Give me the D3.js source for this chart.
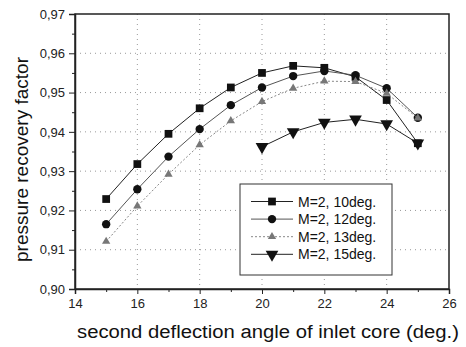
<!DOCTYPE html>
<html>
<head>
<meta charset="utf-8">
<script src="https://cdn.jsdelivr.net/npm/d3@7/dist/d3.min.js"></script>
<style>
    body { margin: 0; background: #fff; }
    svg { display: block; font-family: "Liberation Sans", Arial, sans-serif; }
    .grid line { stroke: #999; stroke-dasharray: 1,4; stroke-width: 1; }
    .axis path, .axis line { stroke: #222; }
    .axis text { font-size: 13px; fill: #222; }
    .title { font-size: 18px; fill: #111; }
    .legend text { font-size: 14px; fill: #111; }
</style>
</head>
<body>
<svg id="chart" width="466" height="347"></svg>
<script>
    // x values (deg.)
    const angles = [15, 16, 17, 18, 19, 20, 21, 22, 23, 24, 25];
    const angles15 = [20, 21, 22, 23, 24, 25];

    const m2deg10 = [0.9229, 0.9318, 0.9395, 0.9460, 0.9513, 0.9550, 0.9568, 0.9563, 0.9540, 0.9481, 0.9371];
    const m2deg12 = [0.9165, 0.9254, 0.9337, 0.9407, 0.9468, 0.9513, 0.9542, 0.9555, 0.9544, 0.9511, 0.9436];
    const m2deg13 = [0.9121, 0.9211, 0.9292, 0.9367, 0.9428, 0.9477, 0.9511, 0.9529, 0.9528, 0.9498, 0.9435];
    const m2deg15 = [0.9362, 0.9400, 0.9424, 0.9432, 0.9420, 0.9371];

    const xTicks = [14, 16, 18, 20, 22, 24, 26];
    const yTicks = [0.90, 0.91, 0.92, 0.93, 0.94, 0.95, 0.96, 0.97];

    const series = [
        {label: 'M=2, 10deg.', xs: angles, ys: m2deg10, symbol: d3.symbolSquare, size: 60, color: '#111', dash: null, lineColor: '#222'},
        {label: 'M=2, 12deg.', xs: angles, ys: m2deg12, symbol: d3.symbolCircle, size: 55, color: '#111', dash: null, lineColor: '#555'},
        {label: 'M=2, 13deg.', xs: angles, ys: m2deg13, symbol: d3.symbolTriangle, size: 30, color: '#777', dash: '2,2', lineColor: '#888'},
        {label: 'M=2, 15deg.', xs: angles15, ys: m2deg15, symbol: d3.symbolTriangle, size: 70, color: '#111', dash: null, lineColor: '#222', flip: true}
    ];

    const margin = {top: 14, right: 17, bottom: 58, left: 75};
    const width = 466 - margin.left - margin.right;
    const height = 347 - margin.top - margin.bottom;

    const svg = d3.select('#chart');
    const chart = svg.append('g').attr('transform', 'translate(' + margin.left + ',' + margin.top + ')');

    const x = d3.scaleLinear().domain([14, 26]).range([0, width]);
    const y = d3.scaleLinear().domain([0.90, 0.97]).range([height, 0]);

    // grid
    chart.append('g').attr('class', 'grid')
        .selectAll('line').data(xTicks.slice(1, -1)).enter().append('line')
        .attr('x1', d => x(d)).attr('x2', d => x(d)).attr('y1', 0).attr('y2', height);
    chart.append('g').attr('class', 'grid')
        .selectAll('line').data(yTicks.slice(1, -1)).enter().append('line')
        .attr('y1', d => y(d)).attr('y2', d => y(d)).attr('x1', 0).attr('x2', width);

    // frame
    chart.append('rect').attr('width', width).attr('height', height)
        .attr('fill', 'none').attr('stroke', '#222').attr('stroke-width', 1.5);

    // axes with minor ticks
    const fmt = d => d3.format('.2f')(d).replace('.', ',');
    chart.append('g').attr('class', 'x axis').attr('transform', 'translate(0,' + height + ')')
        .call(d3.axisBottom(x).tickValues(d3.range(15, 26, 2)).tickSize(3).tickFormat(''))
        .call(g => g.select('.domain').remove());
    chart.append('g').attr('class', 'x axis').attr('transform', 'translate(0,' + height + ')')
        .call(d3.axisBottom(x).tickValues(xTicks).tickSize(5).tickPadding(5))
        .call(g => g.select('.domain').attr('stroke-width', 1.5));
    chart.append('g').attr('class', 'y axis')
        .call(d3.axisLeft(y).tickValues(d3.range(0.905, 0.97, 0.01)).tickSize(3).tickFormat(''))
        .call(g => g.select('.domain').remove());
    chart.append('g').attr('class', 'y axis')
        .call(d3.axisLeft(y).tickValues(yTicks).tickSize(6).tickPadding(4).tickFormat(fmt))
        .call(g => g.select('.domain').attr('stroke-width', 1.5));

    // titles (the source picture is slightly stretched sideways)
    chart.append('text').attr('class', 'title')
        .attr('x', 77 - margin.left).attr('y', 338 - margin.top)
        .attr('textLength', 382).attr('lengthAdjust', 'spacingAndGlyphs')
        .text('second deflection angle of inlet core (deg.)');
    chart.append('text').attr('class', 'title')
        .attr('transform', 'translate(' + (28 - margin.left) + ',' + (262 - margin.top) + ') rotate(-90)')
        .attr('textLength', 205).attr('lengthAdjust', 'spacingAndGlyphs')
        .text('pressure recovery factor');

    // lines and markers
    const line = d3.line().x(d => x(d[0])).y(d => y(d[1]));
    series.forEach(s => {
        const pts = s.xs.map((v, i) => [v, s.ys[i]]);
        chart.append('path').datum(pts)
            .attr('d', line).attr('fill', 'none')
            .attr('stroke', s.lineColor).attr('stroke-width', 1)
            .attr('stroke-dasharray', s.dash);
        chart.append('g').selectAll('path').data(pts).enter().append('path')
            .attr('d', d3.symbol().type(s.symbol).size(s.size))
            .attr('transform', d => 'translate(' + x(d[0]) + ',' + y(d[1]) + ')' + (s.flip ? ' rotate(180)' : ''))
            .attr('fill', s.color);
    });

    // legend
    const legend = chart.append('g').attr('class', 'legend')
        .attr('transform', 'translate(' + (240 - margin.left) + ',' + (184 - margin.top) + ')');
    legend.append('rect').attr('width', 152).attr('height', 91)
        .attr('fill', '#fff').attr('stroke', '#333').attr('stroke-width', 1);
    series.forEach((s, i) => {
        const row = legend.append('g').attr('transform', 'translate(0,' + (17.5 + i * 17.6) + ')');
        row.append('line').attr('x1', 11).attr('x2', 53)
            .attr('stroke', s.lineColor).attr('stroke-width', 1).attr('stroke-dasharray', s.dash);
        row.append('path').attr('d', d3.symbol().type(s.symbol).size(s.size))
            .attr('transform', 'translate(32,0)' + (s.flip ? ' rotate(180)' : ''))
            .attr('fill', s.color);
        row.append('text').attr('x', 58).attr('dy', '0.36em').text(s.label);
    });
</script>
</body>
</html>
